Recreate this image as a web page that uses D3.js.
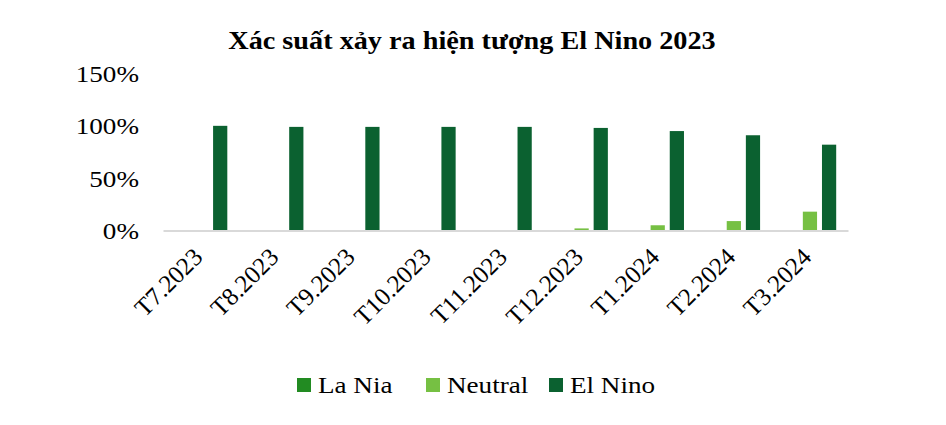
<!DOCTYPE html>
<html><head><meta charset="utf-8">
<script src="https://cdn.jsdelivr.net/npm/d3@7"></script>
<style>body{margin:0;background:#fff}</style>
</head><body>
<svg id="c" width="946" height="425"></svg>
<script>
const categories = ["T7.2023","T8.2023","T9.2023","T10.2023","T11.2023","T12.2023","T1.2024","T2.2024","T3.2024"];
const laNia   = [0,0,0,0,0,0,0,0,0];
const neutral = [0,0,0,0,0,2,5,9,18];
const elNino  = [100,99,99,99,99,98,95,91,82];
const seriesNames = ["La Nia","Neutral","El Nino"];
const colors = ["#228B22","#76C043","#0B6130"];
const yTicks = [0,50,100,150];
const title = "Xác suất xảy ra hiện tượng El Nino 2023";

const FONT = '"Liberation Serif"';
const svg = d3.select("#c");
const sx = 1.13; // horizontal stretch seen in reference text
const left = 163, right = 848, y0 = 230.5, yTop = 73.5;
const x = d3.scaleBand().domain(categories).range([left, right]);
const y = d3.scaleLinear().domain([0,150]).range([y0, yTop]);
const series = [laNia, neutral, elNino];
const inner = d3.scaleBand().domain(d3.range(3)).range([-26.25, 26.25]).paddingInner(0.257);

svg.append("text").attr("transform",`translate(472,49) scale(${sx},1)`).attr("text-anchor","middle")
  .style("font-family",FONT).attr("font-weight","bold").attr("font-size",25).attr("fill","#000").text(title);

// y axis labels
const yAxis = d3.axisLeft(y).tickValues(yTicks).tickFormat(d=>d+"%").tickSize(0).tickPadding(0);
const ya = svg.append("g").attr("transform",`translate(139,0)`).call(yAxis);
ya.select(".domain").remove();
ya.selectAll("text").style("font-family",FONT).attr("font-size",24).attr("fill","#000").attr("dy","0.33em")
  .attr("x",null).attr("transform",`scale(${sx},1)`);

// bars
series.forEach((vals,si)=>{
  svg.append("g").selectAll("rect").data(vals).join("rect")
    .attr("x",(d,i)=>x(categories[i])+x.bandwidth()/2+inner(si))
    .attr("width",inner.bandwidth())
    .attr("y",d=>y(d))
    .attr("height",d=>y0-y(d))
    .attr("fill",colors[si]);
});

// x axis
const xAxis = d3.axisBottom(x).tickSize(0).tickPadding(0);
const xa = svg.append("g").attr("transform",`translate(0,${y0})`).call(xAxis);
xa.select(".domain").attr("stroke","#d9d9d9").attr("stroke-width",2);
xa.selectAll("text").style("font-family",FONT).attr("font-size",25).attr("fill","#000")
  .attr("text-anchor","end").attr("dy",null).attr("y",0)
  .attr("transform","translate(3,28) rotate(-45)");

// legend
const legX = [297,426,549];
const lg = svg.append("g");
seriesNames.forEach((n,i)=>{
  lg.append("rect").attr("x",legX[i]).attr("y",378).attr("width",14).attr("height",14).attr("fill",colors[i]);
  lg.append("text").attr("transform",`translate(${legX[i]+21},393) scale(${sx},1)`)
    .style("font-family",FONT).attr("font-size",24).attr("fill","#000").text(n);
});
</script>
</body></html>
